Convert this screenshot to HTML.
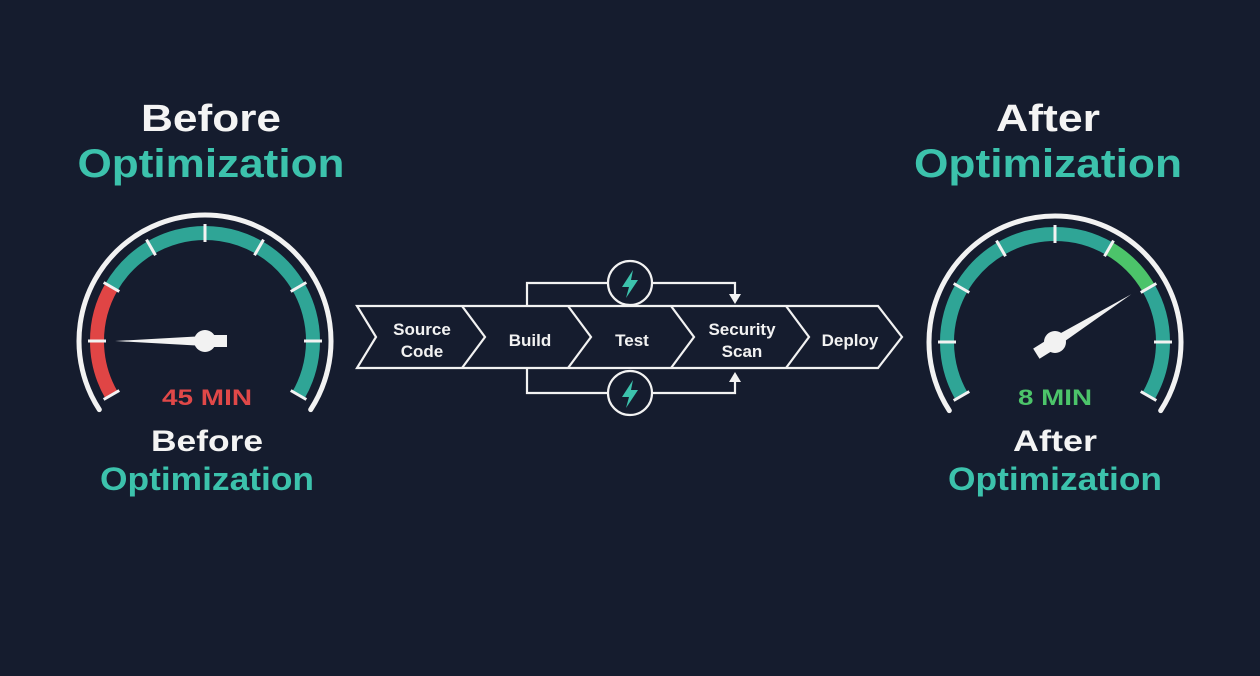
<!DOCTYPE html>
<html><head><meta charset="utf-8"><style>
html,body{margin:0;padding:0;background:#151c2e;}
svg{display:block}
text{font-family:"Liberation Sans",sans-serif;font-weight:bold;text-anchor:middle}
</style></head><body>
<svg id="s" width="1260" height="676" viewBox="0 0 1260 676" xmlns="http://www.w3.org/2000/svg">
<rect width="1260" height="676" fill="#151c2e"/>
<g id="g"></g>
<!-- headings -->
<text x="211" y="131" font-size="38" fill="#f4f4f4" textLength="140" lengthAdjust="spacingAndGlyphs">Before</text>
<text x="211" y="177" font-size="40" fill="#3cc2ac" textLength="267" lengthAdjust="spacingAndGlyphs">Optimization</text>
<text x="1048" y="131" font-size="38" fill="#f4f4f4" textLength="104" lengthAdjust="spacingAndGlyphs">After</text>
<text x="1048" y="177" font-size="40" fill="#3cc2ac" textLength="268" lengthAdjust="spacingAndGlyphs">Optimization</text>
<text x="207" y="451" font-size="30" fill="#f4f4f4" textLength="112" lengthAdjust="spacingAndGlyphs">Before</text>
<text x="207" y="490" font-size="32" fill="#3cc2ac" textLength="214" lengthAdjust="spacingAndGlyphs">Optimization</text>
<text x="1055" y="451" font-size="30" fill="#f4f4f4" textLength="84" lengthAdjust="spacingAndGlyphs">After</text>
<text x="1055" y="490" font-size="32" fill="#3cc2ac" textLength="214" lengthAdjust="spacingAndGlyphs">Optimization</text>
<text x="207" y="405" font-size="22" fill="#e04848" textLength="90" lengthAdjust="spacingAndGlyphs">45 MIN</text>
<text x="1055" y="405" font-size="22" fill="#4cc46a" textLength="74" lengthAdjust="spacingAndGlyphs">8 MIN</text>
<!-- pipeline -->
<g fill="none" stroke="#f2f2f2" stroke-width="2.2" stroke-linejoin="miter">
<polyline points="527,306 527,283 735,283 735,296"/>
<polyline points="527,368 527,393 735,393 735,380"/>
<polygon points="357,306 878,306 902,337 878,368 357,368 376,337" fill="#151c2e"/>
<polyline points="462,306 485,337 462,368"/>
<polyline points="568,306 591,337 568,368"/>
<polyline points="671,306 694,337 671,368"/>
<polyline points="786,306 809,337 786,368"/>
<circle cx="630" cy="283" r="22" fill="#151c2e"/>
<circle cx="630" cy="393" r="22" fill="#151c2e"/>
</g>
<polygon points="729,294 741,294 735,304" fill="#f2f2f2"/>
<polygon points="729,382 741,382 735,372" fill="#f2f2f2"/>
<polygon points="633,270 622,287 629,287 626,298 638,280 631,280" fill="#3cc2ac"/>
<polygon points="633,380 622,397 629,397 626,408 638,390 631,390" fill="#3cc2ac"/>
<g font-size="17" fill="#f2f2f2">
<text x="422" y="335">Source</text><text x="422" y="357">Code</text>
<text x="530" y="346">Build</text>
<text x="632" y="346">Test</text>
<text x="742" y="335">Security</text><text x="742" y="357">Scan</text>
<text x="850" y="346">Deploy</text>
</g>
</svg>
<script>
var g=document.getElementById('g'),NS='http://www.w3.org/2000/svg';
function el(t,a){var e=document.createElementNS(NS,t);for(var k in a)e.setAttribute(k,a[k]);g.appendChild(e);return e;}
function P(cx,cy,r,d){var a=d*Math.PI/180;return [cx+r*Math.cos(a),cy-r*Math.sin(a)];}
function arc(cx,cy,r,a1,a2,col,w){var p=P(cx,cy,r,a1),q=P(cx,cy,r,a2);var large=(a1-a2)>180?1:0;
el('path',{d:'M'+p[0]+' '+p[1]+' A'+r+' '+r+' 0 '+large+' 1 '+q[0]+' '+q[1],fill:'none',stroke:col,'stroke-width':w,'stroke-linecap':'butt'});}
function gauge(cx,cy,segs,needle){
 var p=P(cx,cy,126,213),q=P(cx,cy,126,-33);
 el('path',{d:'M'+p[0]+' '+p[1]+' A126 126 0 1 1 '+q[0]+' '+q[1],fill:'none',stroke:'#f2f2f2','stroke-width':5,'stroke-linecap':'round'});
 segs.forEach(function(s){arc(cx,cy,108,s[0],s[1],s[2],14);});
 for(var a=210;a>=-30;a-=30){var i=P(cx,cy,99,a),o=P(cx,cy,117,a);
  el('line',{x1:i[0],y1:i[1],x2:o[0],y2:o[1],stroke:'#f2f2f2','stroke-width':3});}
 var ang=needle*Math.PI/180,L=90,dx=Math.cos(ang),dy=-Math.sin(ang),nx=-dy,ny=dx;
 var tip=[cx+L*dx,cy+L*dy];
 el('polygon',{points:(cx+nx*5)+','+(cy+ny*5)+' '+tip[0]+','+tip[1]+' '+(cx-nx*5)+','+(cy-ny*5),fill:'#f2f2f2'});
 var t1=[cx-22*dx,cy-22*dy];
 el('polygon',{points:(cx+nx*6)+','+(cy+ny*6)+' '+(t1[0]+nx*6)+','+(t1[1]+ny*6)+' '+(t1[0]-nx*6)+','+(t1[1]-ny*6)+' '+(cx-nx*6)+','+(cy-ny*6),fill:'#f2f2f2'});
 el('circle',{cx:cx,cy:cy,r:11,fill:'#f2f2f2'});
}
var T='#2fa596';
gauge(205,341,[[210,150,'#e04545'],[150,60,T],[60,-30,T]],180);
gauge(1055,342,[[210,120,T],[120,60,T],[60,30,'#4cc46a'],[30,-30,T]],32);
</script>
</body></html>
